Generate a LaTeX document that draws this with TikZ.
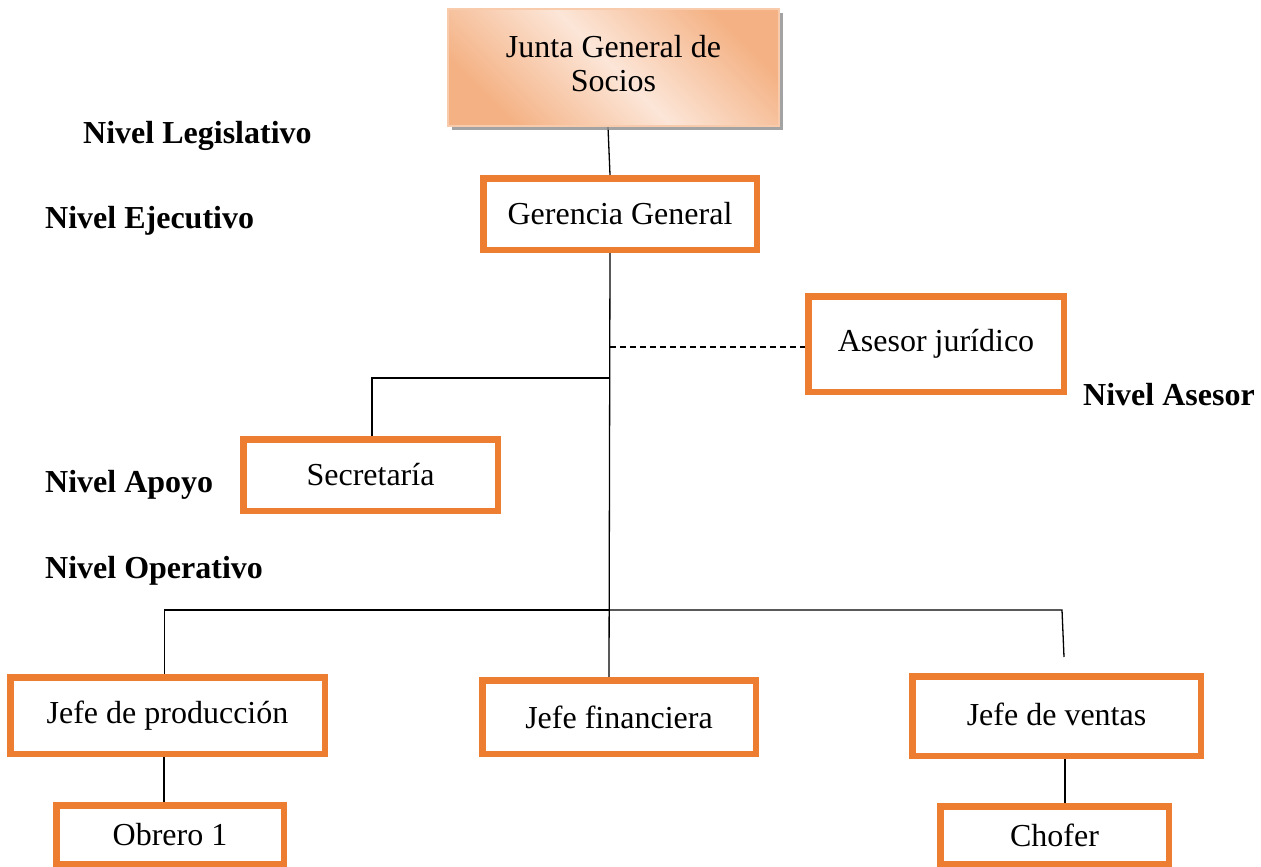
\documentclass[tikz,border=0pt]{standalone}
\usepackage{fontspec}
\setmainfont{Liberation Serif}
\usetikzlibrary{backgrounds,shadows}
\definecolor{orgB}{HTML}{ED7D31}
\definecolor{juntaD}{HTML}{F4B183}
\definecolor{juntaL}{HTML}{FCE6D8}
\definecolor{juntaE}{HTML}{F8CBAD}
\begin{document}
\begin{tikzpicture}[x=1pt,y=-1pt,
  box/.style={draw=orgB, line width=6.5pt, fill=white, rectangle, inner sep=0pt,
    font=\fontsize{32}{36}\selectfont},
  lvl/.style={anchor=base west, inner sep=0pt, font=\fontsize{32}{36}\selectfont\bfseries},
  conn/.style={line width=1.3pt, black},
  dconn/.style={line width=1.3pt, black, dash pattern=on 6pt off 4pt}]
\useasboundingbox (0,0) rectangle (1261,867);

% boxes
\node[draw=juntaE, line width=2pt, rectangle, inner sep=0pt,
  top color=juntaD, bottom color=juntaD, middle color=juntaL, shading angle=-45,
  drop shadow={shadow xshift=4pt, shadow yshift=-4pt, fill=black!45, opacity=0.8},
  minimum width=331pt, minimum height=117pt,
  font=\fontsize{32}{34}\selectfont] (junta) at (613.5,67.5)
  {\raisebox{5pt}{\begin{tabular}{@{}c@{}}Junta General de\\Socios\end{tabular}}};
\node[box, minimum width=273.5pt, minimum height=71.5pt] (ger) at (620,214) {Gerencia General};
\node[box, minimum width=255.5pt, minimum height=95.5pt] (ase) at (936,344) {\raisebox{7pt}{Asesor jurídico}};
\node[box, minimum width=254.5pt, minimum height=71.5pt] (sec) at (370.5,475) {Secretaría};
\node[box, minimum width=314.5pt, minimum height=76.5pt] (prod) at (167.5,715.5) {\raisebox{3pt}{Jefe de producción}};
\node[box, minimum width=273.5pt, minimum height=73.5pt] (fin) at (619,717) {Jefe financiera};
\node[box, minimum width=288.5pt, minimum height=79.5pt] (ven) at (1056.5,716) {\raisebox{3pt}{Jefe de ventas}};
\node[box, minimum width=227.5pt, minimum height=58.5pt] (obr) at (170,834.5) {\raisebox{-3pt}{Obrero 1}};
\node[box, minimum width=228.5pt, minimum height=57.5pt] (cho) at (1054.5,835) {\raisebox{-4pt}{Chofer}};

% level labels
\node[lvl] (l1) at (83,143) {Nivel Legislativo};
\node[lvl] (l2) at (45,228) {Nivel Ejecutivo};
\node[lvl] (l3) at (1083,405) {Nivel Asesor};
\node[lvl] (l4) at (45,492) {Nivel Apoyo};
\node[lvl] (l5) at (45,578) {Nivel Operativo};

% junctions
\coordinate (dj) at (610,347);
\coordinate (sj) at (610,378);
\coordinate (oj) at (610,610);
\coordinate (vr) at (1062,610);
\coordinate (ve) at (1064,657);

\begin{scope}[on background layer]
\draw[conn] ([xshift=-5.5pt]junta.south) -- ([xshift=-10pt]ger.north);
\draw[conn] ([xshift=-10pt]ger.south) -- ([xshift=-10pt]fin.north);
\draw[dconn] (dj) -- (ase.west |- dj);
\draw[conn] (sj) -| ([xshift=1.5pt]sec.north);
\draw[conn] (oj) -| ([xshift=-3pt]prod.north);
\draw[conn] (oj) -- (vr) -- (ve);
\draw[conn] ([xshift=-3.5pt]prod.south) -- ([xshift=-3.5pt]prod.south |- obr.north);
\draw[conn] ([xshift=8.5pt]ven.south) -- ([xshift=8.5pt]ven.south |- cho.north);
\end{scope}
\end{tikzpicture}
\end{document}
